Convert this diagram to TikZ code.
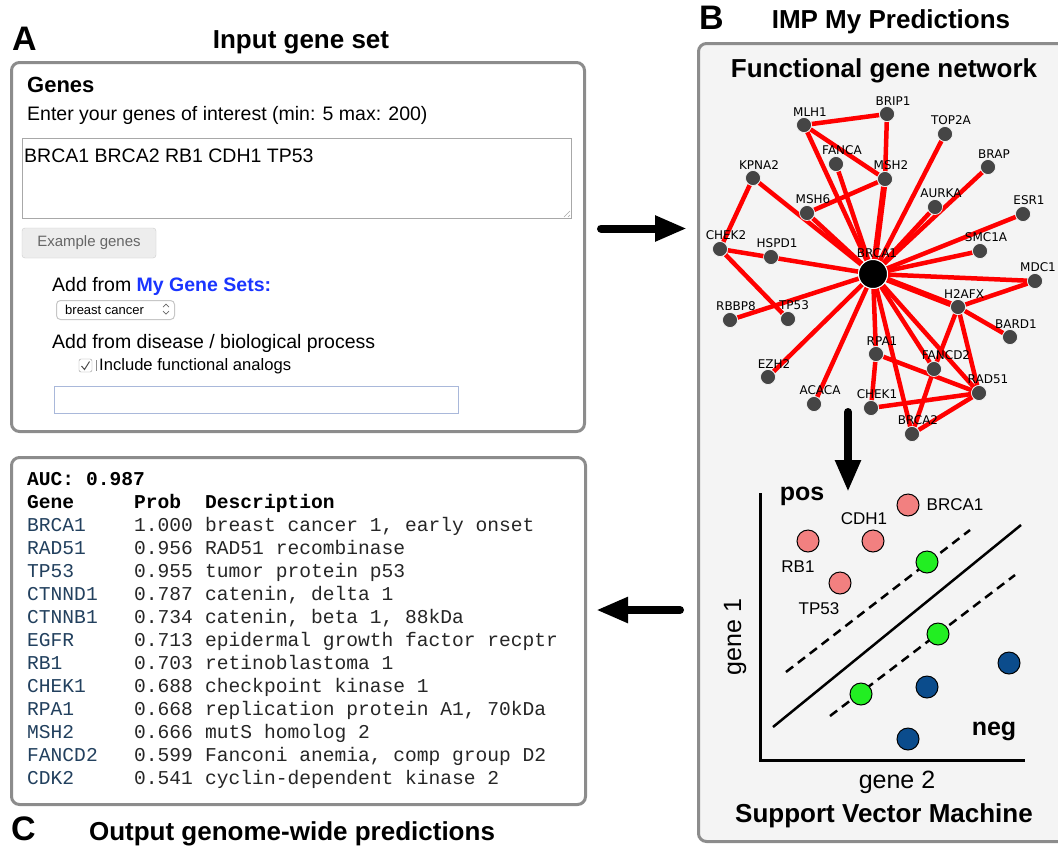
\documentclass[tikz,border=0pt]{standalone}
\usepackage{fontspec}
\setmainfont{Liberation Sans}
\setmonofont{Liberation Mono}
\newfontfamily\netfont{DejaVu Sans}
\usepackage{xcolor}
\usetikzlibrary{arrows.meta,positioning,calc}

\definecolor{panelgray}{HTML}{8C8C8C}
\definecolor{panelfill}{HTML}{F4F4F4}
\definecolor{nodegray}{HTML}{454545}
\definecolor{edgered}{HTML}{FF0000}
\definecolor{posred}{HTML}{F28080}
\definecolor{svgreen}{HTML}{22EE22}
\definecolor{negblue}{HTML}{0B4C8C}
\definecolor{setblue}{HTML}{1A35FF}
\definecolor{genecol}{HTML}{22405E}
\definecolor{fieldgray}{HTML}{A8A8A8}
\definecolor{inputblue}{HTML}{A9B8DA}
\definecolor{btnfill}{HTML}{EDEDED}

\pgfdeclarelayer{bg}
\pgfdeclarelayer{edges}
\pgfsetlayers{bg,edges,main}

\begin{document}
\begin{tikzpicture}[x=1pt,y=-1pt,
  panel/.style={draw=panelgray,line width=3pt,rounded corners=8pt,anchor=north west,inner sep=0pt},
  title/.style={font=\fontsize{26}{28}\selectfont\bfseries,anchor=base,inner sep=0pt},
  letter/.style={font=\fontsize{34}{36}\selectfont\bfseries,anchor=base west,inner sep=0pt},
  ui/.style={font=\fontsize{19.5}{22}\selectfont,anchor=base west,inner sep=0pt},
  field/.style={draw=fieldgray,line width=1pt,anchor=north west,inner sep=0pt},
  btn/.style={draw=black!20,fill=btnfill,rounded corners=3pt,text=black!60,font=\fontsize{15}{17}\selectfont,minimum width=134pt,minimum height=30pt},
  mono/.style={font=\fontsize{19.6}{22}\ttfamily,anchor=base west,inner sep=0pt,text=black!85},
  monob/.style={mono,font=\fontsize{19.6}{22}\ttfamily\bfseries,text=black},
  gene/.style={circle,fill=nodegray,draw=white,line width=0.6pt,minimum size=15pt,inner sep=0pt},
  hub/.style={circle,fill=black,draw=white,line width=1pt,minimum size=29pt,inner sep=0pt},
  glab/.style={font=\netfont\fontsize{12}{13}\selectfont,inner sep=1pt,xshift=6pt},
  edge/.style={edgered,line width=4.5pt},
  bigarr/.style={line width=8pt,line cap=round,-{Triangle[length=32pt,width=24pt]}},
  pt/.style={circle,draw=black,line width=1pt,minimum size=22pt,inner sep=0pt},
  svmlab/.style={font=\fontsize{17}{19}\selectfont,inner sep=0pt},
  svmline/.style={line width=2.5pt}
]
\useasboundingbox (0,0) rectangle (1058,847);

% panels
\begin{pgfonlayer}{bg}
\node[panel,fill=white,minimum width=573pt,minimum height=369pt] (panelA) at (10,61) {};
\node[panel,fill=white,minimum width=574pt,minimum height=347pt] (panelC) at (10,456) {};
\node[panel,fill=panelfill,minimum width=370pt,minimum height=798pt] (panelB) at (697,42) {};
\end{pgfonlayer}

% A: input gene set
\node[letter] (labA) at (12,50) {A};
\node[title] (ttlA) at (301,48) {Input gene set};
\node[ui,font=\fontsize{22}{24}\selectfont\bfseries] (genes) at (27,92) {Genes};
\node[ui] (enter) at (27,120) {Enter your genes of interest (min: 5 max: 200)};
\node[field,minimum width=549pt,minimum height=80pt] (genebox) at (22,138) {};
\node[ui] (genelist) at (24,162) {BRCA1 BRCA2 RB1 CDH1 TP53};
\draw[fieldgray,line width=0.6pt] ($(genebox.south east)+(-8,-2)$) -- ($(genebox.south east)+(-2,-8)$);
\draw[fieldgray,line width=0.6pt] ($(genebox.south east)+(-4,-2)$) -- ($(genebox.south east)+(-2,-4)$);
\node[btn] (example) at (89,243) {Example genes};
\node[ui] (addset) at (52,291) {Add from \textcolor{setblue}{\bfseries My Gene Sets:}};
\node[field,draw=black!22,rounded corners=4pt,minimum width=118pt,minimum height=19pt] (dropdown) at (56,300) {};
\node[ui,font=\fontsize{13}{15}\selectfont] (dropval) at (65,314) {breast cancer};
\draw[black!60,line width=0.7pt] (163,307) -- (166,304) -- (169,307);
\draw[black!60,line width=0.7pt] (163,311) -- (166,314) -- (169,311);
\node[ui] (adddis) at (52,348) {Add from disease / biological process};
\node[draw=black!40,rounded corners=2pt,minimum size=13pt,inner sep=0pt] (check) at (85.5,365.5) {};
\draw[black!70,line width=1pt] (81.5,366) -- (84.5,369.5) -- (89.5,361.5);
\draw[black!45,line width=0.8pt] (96,360) -- (96,371);
\node[ui,font=\fontsize{16.6}{19}\selectfont] (analogs) at (99,370) {Include functional analogs};
\node[field,draw=inputblue,minimum width=404pt,minimum height=27pt] (search) at (54,386) {};

% C: output predictions
\node[monob] (auc) at (27,485) {AUC: 0.987};
\node[monob] (hgene) at (27,508) {Gene};
\node[monob] (hprob) at (134,508) {Prob};
\node[monob] (hdesc) at (205,508) {Description};
\foreach \g/\p/\d [count=\i] in {BRCA1/1.000/{breast cancer 1, early onset},
    RAD51/0.956/{RAD51 recombinase}, TP53/0.955/{tumor protein p53},
    CTNND1/0.787/{catenin, delta 1}, CTNNB1/0.734/{catenin, beta 1, 88kDa},
    EGFR/0.713/{epidermal growth factor recptr}, RB1/0.703/{retinoblastoma 1},
    CHEK1/0.688/{checkpoint kinase 1}, RPA1/0.668/{replication protein A1, 70kDa},
    MSH2/0.666/{mutS homolog 2}, FANCD2/0.599/{Fanconi anemia, comp group D2},
    CDK2/0.541/{cyclin-dependent kinase 2}}{
  \node[mono,text=genecol] (g\i) at (27,{508+23*\i}) {\g};
  \node[mono] (p\i) at (134,{508+23*\i}) {\p};
  \node[mono] (d\i) at (205,{508+23*\i}) {\d};
}
\node[letter] (labC) at (11,840) {C};
\node[title] (ttlC) at (292,840) {Output genome-wide predictions};

% B: network
\node[letter] (labB) at (699,29) {B};
\node[title] (ttlB) at (891,28) {IMP My Predictions};
\node[title] (netttl) at (884,77) {Functional gene network};

\node[hub,label={[glab,xshift=-2pt]above:BRCA1}] (brca1) at (873,274) {};
\node[gene,label={[glab]above:MLH1}] (mlh1) at (804,125) {};
\node[gene,label={[glab]above:BRIP1}] (brip1) at (887,114) {};
\node[gene,label={[glab]above:TOP2A}] (top2a) at (945,134) {};
\node[gene,label={[glab]above:FANCA}] (fanca) at (836,164) {};
\node[gene,label={[glab]above:MSH2}] (msh2) at (885,179) {};
\node[gene,label={[glab]above:BRAP}] (brap) at (988,167) {};
\node[gene,label={[glab]above:KPNA2}] (kpna2) at (753,178) {};
\node[gene,label={[glab]above:MSH6}] (msh6) at (807,213) {};
\node[gene,label={[glab]above:AURKA}] (aurka) at (935,207) {};
\node[gene,label={[glab]above:ESR1}] (esr1) at (1023,214) {};
\node[gene,label={[glab]above:CHEK2}] (chek2) at (720,249) {};
\node[gene,label={[glab]above:HSPD1}] (hspd1) at (771,257) {};
\node[gene,label={[glab]above:SMC1A}] (smc1a) at (980,251) {};
\node[gene,label={[glab,xshift=-3pt]above:MDC1}] (mdc1) at (1035,281) {};
\node[gene,label={[glab]above:H2AFX}] (h2afx) at (958,307) {};
\node[gene,label={[glab]above:RBBP8}] (rbbp8) at (730,320) {};
\node[gene,label={[glab]above:TP53}] (tp53) at (788,319) {};
\node[gene,label={[glab]above:BARD1}] (bard1) at (1010,337) {};
\node[gene,label={[glab]above:RPA1}] (rpa1) at (876,354) {};
\node[gene,label={[glab,xshift=6pt]above:FANCD2}] (fancd2) at (934,369) {};
\node[gene,label={[glab]above:EZH2}] (ezh2) at (768,377) {};
\node[gene,label={[glab,xshift=3pt]above:RAD51}] (rad51) at (979,393) {};
\node[gene,label={[glab]above:ACACA}] (acaca) at (814,404) {};
\node[gene,label={[glab]above:CHEK1}] (chek1) at (871,408) {};
\node[gene,label={[glab]above:BRCA2}] (brca2) at (912,434) {};

\begin{pgfonlayer}{edges}
\draw[edge] (mlh1) -- (brip1);
\draw[edge] (brip1) -- (msh2);
\draw[edge] (mlh1) -- (msh2);
\draw[edge] (mlh1) -- (brca1);
\draw[edge] (fanca) -- (brca1);
\draw[edge,line width=6pt] (msh2) -- (brca1);
\draw[edge] (msh2) -- (msh6);
\draw[edge] (top2a) -- (brca1);
\draw[edge] (brap) -- (brca1);
\draw[edge] (aurka) -- (brca1);
\draw[edge] (esr1) -- (brca1);
\draw[edge] (smc1a) -- (brca1);
\draw[edge] (kpna2) -- (brca1);
\draw[edge] (msh6) -- (brca1);
\draw[edge] (kpna2) -- (chek2);
\draw[edge] (chek2) -- (brca1);
\draw[edge] (chek2) -- (tp53);
\draw[edge] (rbbp8) -- (brca1);
\draw[edge] (ezh2) -- (brca1);
\draw[edge] (acaca) -- (brca1);
\draw[edge] (rpa1) -- (brca1);
\draw[edge] (rpa1) -- (chek1);
\draw[edge] (rpa1) -- (rad51);
\draw[edge] (chek1) -- (rad51);
\draw[edge] (brca2) -- (rad51);
\draw[edge] (brca2) -- (brca1);
\draw[edge] (fancd2) -- (brca2);
\draw[edge] (fancd2) -- (brca1);
\draw[edge] (fancd2) -- (h2afx);
\draw[edge,line width=6pt] (h2afx) -- (brca1);
\draw[edge] (h2afx) -- (mdc1);
\draw[edge] (mdc1) -- (brca1);
\draw[edge] (h2afx) -- (bard1);
\draw[edge] (h2afx) -- (rad51);
\draw[edge] (rad51) -- (brca1);
\end{pgfonlayer}

% arrows between panels
\coordinate (ain) at ([shift={(15,-18.5)}]panelA.east);
\draw[bigarr] (ain) -- ($(ain -| panelB.west)+(-10,0)$);
\coordinate (netout) at (848,412);
\coordinate (svmin) at (848,492);
\draw[bigarr] (netout) -- (svmin);
\coordinate (cout) at (680,610);
\draw[bigarr] (cout) -- ($(cout -| panelC.east)+(9,0)$);

% SVM
\coordinate (ytop) at (760,493);
\coordinate (orig) at (760,760);
\coordinate (xend) at (1025,760);
\draw[line width=3pt] (ytop) -- (orig) -- (xend);
\draw[svmline] (773,727) -- (1021,525);
\draw[svmline,dash pattern=on 9pt off 6pt] (786,672) -- (970,530);
\draw[svmline,dash pattern=on 9pt off 6pt] (830,716) -- (1015,575);
\node[pt,fill=posred] (sbrca1) at (908,505) {};
\node[pt,fill=posred] (scdh1) at (873,541) {};
\node[pt,fill=posred] (srb1) at (808,541) {};
\node[pt,fill=posred] (stp53) at (840,583) {};
\node[pt,fill=svgreen] (sv1) at (927,562) {};
\node[pt,fill=svgreen] (sv2) at (938,634) {};
\node[pt,fill=svgreen] (sv3) at (861,694) {};
\node[pt,fill=negblue] (sn1) at (1009,663) {};
\node[pt,fill=negblue] (sn2) at (927,687) {};
\node[pt,fill=negblue] (sn3) at (908,739) {};
\node[svmlab,right=7pt of sbrca1] (lbrca1) {BRCA1};
\node[svmlab,above=5pt of scdh1,xshift=-9pt] (lcdh1) {CDH1};
\node[svmlab,below=8pt of srb1,xshift=-10pt] (lrb1) {RB1};
\node[svmlab,below=8pt of stp53,xshift=-21pt] (ltp53) {TP53};
\node[title,font=\fontsize{25}{27}\selectfont\bfseries] (pos) at (802,500) {pos};
\node[title,font=\fontsize{25}{27}\selectfont\bfseries] (neg) at (994,735) {neg};
\node[font=\fontsize{25}{27}\selectfont,rotate=90,inner sep=0pt] (g1) at (735,637) {gene 1};
\node[title,font=\fontsize{25}{27}\selectfont] (g2) at (897,788) {gene 2};
\node[title] (svmttl) at (884,822) {Support Vector Machine};
\end{tikzpicture}
\end{document}
